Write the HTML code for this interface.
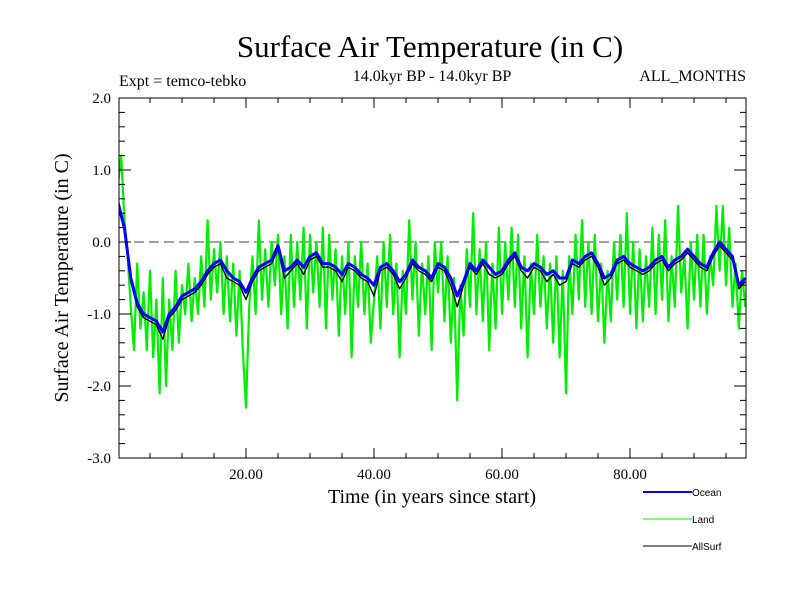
<!DOCTYPE html>
<html><head><meta charset="utf-8"><style>
html,body{margin:0;padding:0;background:#fff;}
svg{display:block;}
text{font-family:"Liberation Serif",serif;fill:#000;}
.sans{font-family:"Liberation Sans",sans-serif;}
</style></head><body>
<svg id="chart" width="800" height="600" viewBox="0 0 800 600">
<rect width="800" height="600" fill="#fff"/>
<text x="430" y="57" font-size="31" text-anchor="middle">Surface Air Temperature (in C)</text>
<text x="119" y="86" font-size="16">Expt = temco-tebko</text>
<text x="432" y="81" font-size="16" text-anchor="middle">14.0kyr BP - 14.0kyr BP</text>
<text x="746" y="81" font-size="16" text-anchor="end">ALL_MONTHS</text>
<text transform="translate(68,278) rotate(-90)" font-size="20" text-anchor="middle">Surface Air Temperature (in C)</text>
<text x="432" y="503" font-size="20" text-anchor="middle">Time (in years since start)</text>
<g id="plot"></g>
<g id="axes"></g>
<g>
<g><line x1="643" y1="492" x2="692" y2="492" stroke="#0000ff" stroke-width="2"/><text class="sans" x="692" y="496" font-size="10">Ocean</text></g>
<g><line x1="643" y1="519" x2="692" y2="519" stroke="#00ee00" stroke-width="1"/><text class="sans" x="692" y="523" font-size="10">Land</text></g>
<g><line x1="643" y1="546" x2="692" y2="546" stroke="#000" stroke-width="1"/><text class="sans" x="692" y="550" font-size="10">AllSurf</text></g>
</g>
</svg>
<script>
const oceanValues=[0.55,0.2,-0.5,-0.85,-1.0,-1.05,-1.1,-1.25,-1.0,-0.9,-0.75,-0.7,-0.65,-0.55,-0.4,-0.3,-0.25,-0.4,-0.5,-0.55,-0.7,-0.5,-0.35,-0.3,-0.25,-0.05,-0.4,-0.35,-0.25,-0.35,-0.2,-0.15,-0.3,-0.3,-0.35,-0.45,-0.3,-0.35,-0.45,-0.5,-0.6,-0.35,-0.3,-0.4,-0.55,-0.45,-0.25,-0.35,-0.4,-0.5,-0.3,-0.35,-0.5,-0.75,-0.55,-0.3,-0.4,-0.25,-0.35,-0.45,-0.4,-0.25,-0.15,-0.35,-0.4,-0.3,-0.35,-0.45,-0.4,-0.5,-0.5,-0.25,-0.3,-0.2,-0.15,-0.3,-0.5,-0.45,-0.25,-0.2,-0.3,-0.35,-0.4,-0.35,-0.25,-0.2,-0.35,-0.25,-0.2,-0.1,-0.2,-0.3,-0.35,-0.15,0.0,-0.1,-0.2,-0.6,-0.5];
const allSurfValues=[0.5,0.15,-0.55,-0.9,-1.05,-1.1,-1.15,-1.35,-1.05,-0.95,-0.8,-0.75,-0.7,-0.6,-0.45,-0.35,-0.3,-0.5,-0.55,-0.6,-0.8,-0.55,-0.4,-0.35,-0.3,-0.1,-0.5,-0.4,-0.3,-0.45,-0.25,-0.2,-0.35,-0.35,-0.4,-0.55,-0.35,-0.4,-0.5,-0.55,-0.75,-0.4,-0.35,-0.45,-0.65,-0.5,-0.3,-0.4,-0.45,-0.55,-0.35,-0.4,-0.6,-0.9,-0.6,-0.35,-0.45,-0.3,-0.45,-0.5,-0.45,-0.3,-0.2,-0.4,-0.5,-0.35,-0.4,-0.55,-0.45,-0.6,-0.55,-0.3,-0.35,-0.25,-0.2,-0.35,-0.6,-0.5,-0.3,-0.25,-0.35,-0.4,-0.45,-0.4,-0.3,-0.25,-0.4,-0.3,-0.25,-0.15,-0.25,-0.35,-0.4,-0.2,-0.05,-0.15,-0.25,-0.65,-0.55];
const landValues=[0.8,1.2,0.3,-0.2,-0.9,-1.5,-0.3,-1.2,-0.7,-1.5,-0.4,-1.6,-0.8,-2.1,-0.5,-2.0,-0.8,-1.5,-0.4,-1.4,-0.6,-1.0,-0.3,-1.1,-0.5,-1.0,-0.2,-0.9,0.3,-0.8,-0.1,-0.7,0.0,-1.0,-0.2,-1.1,-0.3,-1.3,-0.4,-1.5,-2.3,-0.9,-0.2,-1.0,0.3,-0.8,-0.1,-0.9,0.0,-0.6,0.1,-1.0,-0.2,-1.2,0.1,-0.9,0.0,-0.8,0.2,-1.2,0.1,-0.7,0.0,-0.9,0.2,-1.2,0.1,-0.8,-0.1,-1.3,-0.2,-1.0,0.0,-1.6,-0.2,-0.9,0.0,-1.0,-0.3,-1.4,-0.8,-0.2,-1.2,0.0,-0.9,0.1,-1.0,-0.3,-1.6,-0.4,-1.0,0.3,-0.8,0.0,-1.3,-0.3,-1.0,-0.2,-1.5,0.0,-0.7,0.0,-1.1,-0.2,-1.4,-0.5,-2.2,-0.6,-1.3,-0.1,-0.9,0.4,-1.0,-0.1,-1.1,0.0,-1.5,-0.3,-1.2,0.2,-1.0,0.0,-0.8,0.2,-0.9,0.1,-1.2,-0.2,-1.6,-0.3,-1.0,0.1,-0.9,-0.2,-1.2,-0.3,-1.4,-0.2,-1.6,-0.4,-2.1,-0.2,-1.0,0.1,-0.8,0.3,-0.9,0.0,-1.0,0.1,-1.1,-0.3,-1.4,-0.4,-1.1,0.0,-0.8,0.1,-0.9,0.4,-1.0,0.0,-1.2,-0.1,-1.1,-0.2,-0.9,0.2,-1.0,0.1,-0.8,0.3,-1.1,-0.2,-0.9,0.5,-0.7,-0.2,-1.2,0.0,-0.8,0.1,-0.9,0.1,-1.0,-0.2,-0.6,0.5,-0.4,0.5,-0.6,0.2,-0.9,-0.3,-1.2,-0.4,-0.9];
const yTickLabels=["2.0","1.0","0.0","-1.0","-2.0","-3.0"];
const xTickLabels=["20.00","40.00","60.00","80.00"];
const L=119,R=746,T=98,B=458;
const xS=t=>118+t*6.4;
const yS=v=>T+(2-v)*(B-T)/5;
const ns="http://www.w3.org/2000/svg";
const plot=document.getElementById('plot'),axes=document.getElementById('axes');
function mk(tag,attrs,parent){const e=document.createElementNS(ns,tag);for(const k in attrs)e.setAttribute(k,attrs[k]);parent.appendChild(e);return e;}
const clip=mk('clipPath',{id:'pc'},plot);mk('rect',{x:L,y:T,width:R-L,height:B-T},clip);
const zl=mk('line',{x1:L,x2:R,y1:yS(0),y2:yS(0),stroke:'#444','stroke-dasharray':'10,5'},plot);


function series(vals,step,color,w,name){
 const d=vals.map((v,i)=>(i?'L':'M')+xS(i*step).toFixed(1)+','+yS(v).toFixed(1)).join('');
 const p=mk('path',{d:d,fill:'none',stroke:color,'stroke-width':w,'clip-path':'url(#pc)','stroke-linejoin':'round'},plot);
 
 
}
series(landValues,0.5,'#00ee00',2.2,'land-series');
series(allSurfValues,1,'#000',1.4,'allsurf-series');
series(oceanValues,1,'#0000ff',3,'ocean-series');
const fr=mk('rect',{x:L,y:T,width:R-L,height:B-T,fill:'none',stroke:'#000','stroke-width':1},axes);


for(let k=0;k<=25;k++){const v=2-k*0.2,y=yS(v),len=(k%5===0)?12:6;
 mk('line',{x1:L,x2:L+len,y1:y,y2:y,stroke:'#000'},axes);
 mk('line',{x1:R,x2:R-len,y1:y,y2:y,stroke:'#000'},axes);}
yTickLabels.forEach((s,i)=>{const t=mk('text',{x:L-8,y:yS(2-i)+5,'font-size':15,'text-anchor':'end'},axes);t.textContent=s;
 
 });
for(let yr=5;yr<98;yr+=5){const x=xS(yr),len=(yr%20===0)?10:5;
 mk('line',{x1:x,x2:x,y1:B,y2:B-len,stroke:'#000'},axes);
 mk('line',{x1:x,x2:x,y1:T,y2:T+len,stroke:'#000'},axes);}
xTickLabels.forEach((s,i)=>{const t=mk('text',{x:xS((i+1)*20),y:B+21,'font-size':15,'text-anchor':'middle'},axes);t.textContent=s;
 
 });
</script>
</body></html>
